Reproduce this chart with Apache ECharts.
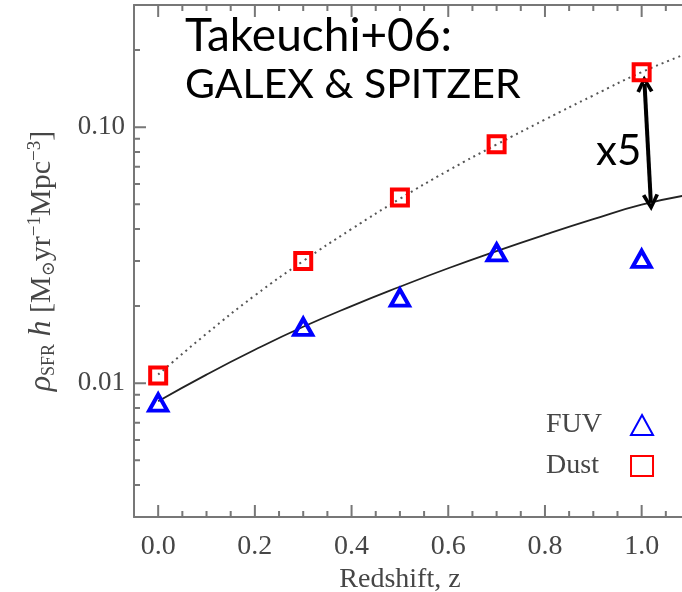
<!DOCTYPE html>
<html>
<head>
<meta charset="utf-8">
<script src="https://cdn.jsdelivr.net/npm/echarts@6/dist/echarts.min.js"></script>
<style>
html,body{margin:0;padding:0;background:#fff;}
#chart{width:682px;height:592px;}
</style>
</head>
<body>
<div id="chart"></div>
<script>
// ---- data ----
const fuvZ = [0.0, 0.3, 0.5, 0.7, 1.0];
const fuvRho = [0.0084, 0.0166, 0.0216, 0.0324, 0.0306];
const dustZ = [0.0, 0.3, 0.5, 0.7, 1.0];
const dustRho = [0.0107, 0.0300, 0.0531, 0.0857, 0.164];
const curveZ = [0.0, 0.1, 0.2, 0.3, 0.4, 0.5, 0.6, 0.7, 0.8, 0.9, 1.0, 1.1];
const fuvCurve = [0.0085, 0.0108, 0.0135, 0.0166, 0.0200, 0.0238, 0.0281, 0.0328, 0.0380, 0.0437, 0.0498, 0.0545];
const dustCurve = [0.0108, 0.0156, 0.0220, 0.0300, 0.0400, 0.0525, 0.0677, 0.0855, 0.1070, 0.1330, 0.1640, 0.1960];
const arrowStart = [1.006, 0.1475];
const arrowEnd = [1.019, 0.0508];
const xMin = -0.05, xMax = 1.1, yMin = 0.003, yMax = 0.3;
const xMajorTicks = [0.0, 0.2, 0.4, 0.6, 0.8, 1.0];
const xMinorTicks = [0.05, 0.1, 0.15, 0.25, 0.3, 0.35, 0.45, 0.5, 0.55, 0.65, 0.7, 0.75, 0.85, 0.9, 0.95, 1.05];
const yMajorTicks = [0.01, 0.1];
const yMajorLabels = ['0.01', '0.10'];
const yMinorTicks = [0.004, 0.005, 0.006, 0.007, 0.008, 0.009, 0.02, 0.03, 0.04, 0.05, 0.06, 0.07, 0.08, 0.09, 0.2];

const zip = (a, b) => a.map((v, i) => [v, b[i]]);

const AX = '#777';
const TXT = '#464646';
const SERIF = '"Liberation Serif", "DejaVu Serif", serif';
const SANS = 'Lato, "Open Sans", sans-serif';
const CHEVRON = 'path://M0,10 L5,0 L10,10 L8,11 L5,4.5 L2,11 Z';

const GRID = { left: 134, top: 5, width: 556, height: 512 };
// tick lengths (pixels) expressed in each axis' own units; ticks start just inside the frame
const pxPerX = GRID.width / (xMax - xMin);
const pxPerDecade = GRID.height / Math.log10(yMax / yMin);
const dx = len => len / pxPerX;
const fy = len => Math.pow(10, len / pxPerDecade);

// tick segments as broken polylines ('-' = gap), drawn by line series on the chart's axes
function xTickData(vals, len) {
  const out = [];
  vals.forEach(v => {
    out.push([v, yMin * fy(0.6)], [v, yMin * fy(len)], [v, '-']);
    out.push([v, yMax / fy(0.6)], [v, yMax / fy(len)], [v, '-']);
  });
  return out;
}
function yTickData(vals, len) {
  const out = [];
  vals.forEach(v => { out.push([xMin + dx(0.6), v], [xMin + dx(len), v], [xMin + dx(len), '-']); });
  return out;
}
const tickLineStyle = { color: AX, width: 2, type: 'solid', opacity: 1 };
function tickSeries(name, data) {
  return {
    name: name, type: 'line', data: data, showSymbol: false, symbol: 'none', connectNulls: false,
    smooth: false, silent: true, z: 3, lineStyle: tickLineStyle, emphasis: { disabled: true }, animation: false
  };
}

const chart = echarts.init(document.getElementById('chart'));
chart.setOption({
  animation: false,
  backgroundColor: '#fff',
  grid: Object.assign({ outerBounds: { left: -300, top: -300, right: -300, bottom: -300 } }, GRID),
  xAxis: [
    {
      type: 'value', min: xMin, max: xMax, position: 'bottom',
      axisLine: { show: true, onZero: false, lineStyle: { color: AX, width: 2 } },
      splitLine: { show: false },
      axisTick: { show: false },
      name: 'Redshift, z',
      nameLocation: 'middle',
      nameGap: 47,
      nameTextStyle: { fontFamily: SERIF, fontSize: 28, color: TXT, padding: [0, 24, 0, 0] },
      axisLabel: { show: true, customValues: xMajorTicks, margin: 16, fontFamily: SERIF, fontSize: 28, color: TXT,
        formatter: v => v.toFixed(1) }
    },
    {
      type: 'value', min: xMin, max: xMax, position: 'top',
      axisLine: { show: true, onZero: false, lineStyle: { color: AX, width: 2 } },
      splitLine: { show: false }, axisTick: { show: false }, axisLabel: { show: false }
    }
  ],
  yAxis: [
    {
      type: 'log', logBase: 10, min: yMin, max: yMax, position: 'left',
      axisLine: { show: true, onZero: false, lineStyle: { color: AX, width: 2 } },
      splitLine: { show: false },
      axisTick: { show: false },
      name: '{i|ρ}{s|SFR} {i|h} [M{s|⊙}yr{p|−1}Mpc{p|−3}]',
      nameLocation: 'middle',
      nameGap: 76,
      nameRotate: 90,
      nameTextStyle: {
        fontFamily: SERIF, fontSize: 30, color: TXT,
        rich: {
          i: { fontFamily: SERIF, fontSize: 32, fontStyle: 'italic', color: TXT },
          s: { fontFamily: SERIF, fontSize: 18, color: TXT, verticalAlign: 'bottom' },
          p: { fontFamily: SERIF, fontSize: 19, color: TXT, verticalAlign: 'top' }
        }
      },
      axisLabel: { show: true, customValues: yMajorTicks, margin: 9, fontFamily: SERIF, fontSize: 27, color: TXT,
        formatter: v => yMajorLabels[yMajorTicks.findIndex(t => Math.abs(t - v) < 1e-9)] || '' }
    }
  ],
  legend: {
    orient: 'vertical',
    left: 541, top: 405,
    align: 'right',
    itemWidth: 22, itemHeight: 20, itemGap: 11,
    data: [
      { name: 'FUV', textStyle: { padding: [0, 24, 0, 0] } },
      { name: 'Dust', textStyle: { padding: [0, 27, 0, 0] } }
    ],
    textStyle: { fontFamily: SERIF, fontSize: 28, lineHeight: 30, color: TXT }
  },
  series: [
    {
      name: 'FUV model', type: 'line', data: zip(curveZ, fuvCurve), smooth: true, showSymbol: false,
      lineStyle: { color: '#222', width: 1.8 }, z: 2,
      markLine: {
        silent: true, symbol: [CHEVRON, CHEVRON], symbolSize: [17, 17],
        itemStyle: { color: '#000' },
        label: { show: false },
        lineStyle: { color: '#000', width: 4, type: 'solid' },
        data: [[{ coord: arrowStart }, { coord: arrowEnd }]]
      }
    },
    {
      name: 'Dust model', type: 'line', data: zip(curveZ, dustCurve), smooth: true, showSymbol: false,
      lineStyle: { color: '#555', width: 2, type: [2, 4] }, z: 2
    },
    {
      name: 'FUV', type: 'scatter', data: zip(fuvZ, fuvRho),
      symbol: 'triangle', symbolSize: [18, 16],
      itemStyle: { color: 'rgba(0,0,0,0)', borderColor: '#0000ff', borderWidth: 4, opacity: 1 }, z: 5
    },
    {
      name: 'Dust', type: 'scatter', data: zip(dustZ, dustRho),
      symbol: 'rect', symbolSize: 16,
      itemStyle: { color: 'rgba(0,0,0,0)', borderColor: '#ff0000', borderWidth: 4, opacity: 1 }, z: 5
    },
    tickSeries('x major ticks', xTickData(xMajorTicks, 12)),
    tickSeries('x minor ticks', xTickData(xMinorTicks, 6)),
    tickSeries('y major ticks', yTickData(yMajorTicks, 12)),
    tickSeries('y minor ticks', yTickData(yMinorTicks, 6))
  ],
  graphic: [
    { type: 'text', x: 185, y: 13, z: 10,
      style: { text: 'Takeuchi+06:', fontFamily: SANS, fontSize: 46, verticalAlign: 'top', fill: '#000' } },
    { type: 'text', x: 185, y: 64, z: 10,
      style: { text: 'GALEX & SPITZER', fontFamily: SANS, fontSize: 41, verticalAlign: 'top', fill: '#000' } },
    { type: 'text', x: 596, y: 130, z: 10,
      style: { text: 'x5', fontFamily: SANS, fontSize: 42, verticalAlign: 'top', fill: '#000' } }
  ]
});
</script>
</body>
</html>
